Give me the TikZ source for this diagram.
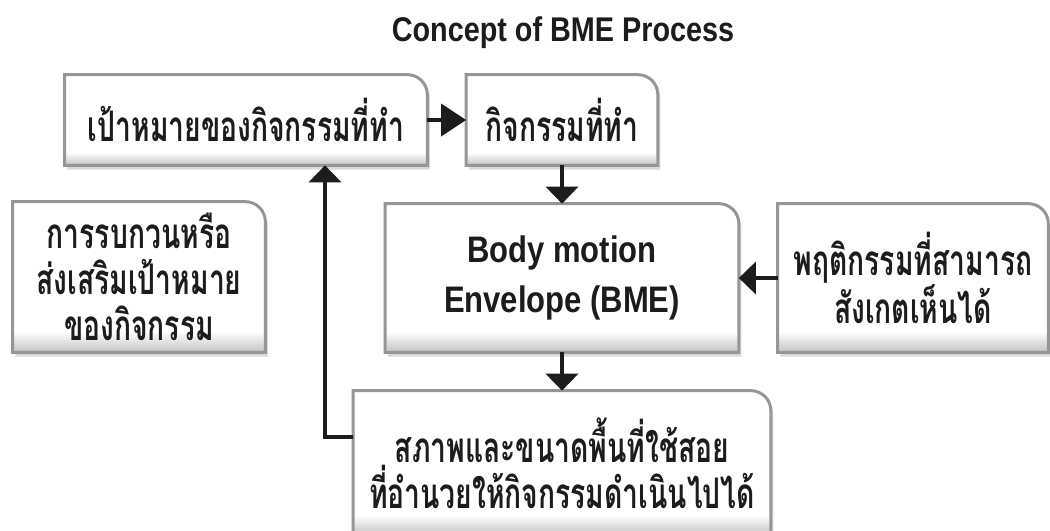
\documentclass[tikz,border=0pt]{standalone}
\usepackage{fontspec}
\setmainfont{Liberation Sans}
\newfontfamily\thaifont[Script=Thai,FakeStretch=0.67]{Loma}
\newfontfamily\headfont[FakeStretch=0.84]{Liberation Sans}
\usepackage{xcolor}
\usetikzlibrary{arrows.meta,shadows,positioning,calc}
\pgfdeclarelayer{background}
\pgfsetlayers{background,main}
\definecolor{framegray}{RGB}{150,150,150}
\definecolor{inkgray}{RGB}{28,28,28}
% white card, greying towards its lower edge
\pgfdeclareverticalshading{cardfade}{100bp}{color(0bp)=(black!24); color(25bp)=(black!24);
  color(32bp)=(white); color(100bp)=(white)}

% frame with one rounded corner, drawn behind the node
\newcommand{\cardframe}[1]{%
  \begin{pgfonlayer}{background}
    \draw[cardline] (#1.south west) -- (#1.north west) -- ([xshift=-0.4cm]#1.north east)
      arc[start angle=90,end angle=0,radius=0.4cm] -- (#1.south east) -- cycle;
  \end{pgfonlayer}}

\begin{document}
\begin{tikzpicture}[
    card/.style={rectangle, align=center, inner sep=0pt, text=inkgray},
    thaitext/.style={font=\fontsize{24}{26}\selectfont\thaifont\bfseries},
    cardline/.style={draw=framegray, line width=1.7pt, shading=cardfade,
      drop shadow={shadow xshift=1.5pt, shadow yshift=-2.5pt, opacity=0.3}},
    flow/.style={draw=inkgray, line width=2.2pt, -{Triangle[length=0.34cm,width=0.64cm]}},
  ]
    \useasboundingbox (0,0) rectangle (21,-10.62);

    % Title
    \node[text=inkgray, font=\fontsize{19.5}{22}\selectfont\headfont\bfseries] (title) at (11.26,-0.66) {Concept of BME Process};

    % Top row
    \node[card, thaitext, minimum width=7.24cm, minimum height=1.8cm] (goal) at (4.92,-2.40) {เป้าหมายของกิจกรรมที่ทำ};
    \node[card, thaitext, minimum width=3.82cm, minimum height=1.8cm] (act) at (11.24,-2.40) {กิจกรรมที่ทำ};

    % Middle row
    \node[card, thaitext, minimum width=5.04cm, minimum height=3.0cm] (disturb) at (2.78,-5.54) {การรบกวนหรือ\\ส่งเสริมเป้าหมาย\\ของกิจกรรม};
    \node[card, font=\fontsize{21}{28.5}\selectfont\headfont\bfseries, minimum width=7.06cm, minimum height=2.96cm] (bme) at (11.24,-5.56) {Body motion\\Envelope (BME)};
    \node[card, thaitext, minimum width=5.40cm, minimum height=2.96cm] (obs) at (18.26,-5.56) {พฤติกรรมที่สามารถ\\สังเกตเห็นได้};

    % Bottom box
    \node[card, thaitext, minimum width=8.34cm, minimum height=2.88cm] (space) at (11.24,-9.26) {สภาพและขนาดพื้นที่ใช้สอย\\ที่อำนวยให้กิจกรรมดำเนินไปได้};

    \cardframe{goal}
    \cardframe{act}
    \cardframe{disturb}
    \cardframe{bme}
    \cardframe{obs}
    \cardframe{space}

    % Arrows
    \draw[flow, -{Triangle[length=0.5cm,width=0.64cm]}] (goal) -- (act);
    \draw[flow] (act) -- (bme);
    \draw[flow] (obs) -- (bme);
    \draw[flow] (bme) -- (space);
    \coordinate (bend) at (6.5,-8.74);
    \draw[flow] ([yshift=0.52cm]space.west) -- (bend) -- (bend |- goal.south);
\end{tikzpicture}
\end{document}
